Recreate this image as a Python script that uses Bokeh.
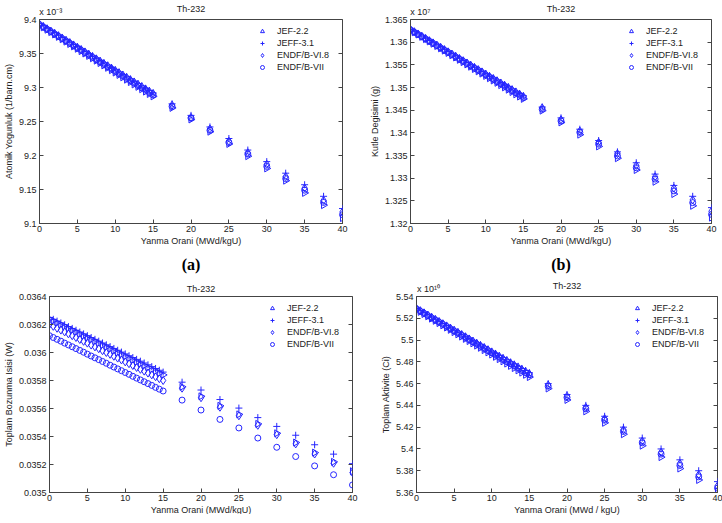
from bokeh.plotting import figure
from bokeh.layouts import column, row
from bokeh.models import Range1d, FixedTicker, Legend, LegendItem, Title, LinearAxis
from bokeh.embed import file_html
from bokeh.resources import INLINE

# ---------------- data ----------------
burnup = [0, 0.5, 1, 1.5, 2, 2.5, 3, 3.5, 4, 4.5, 5, 5.5, 6, 6.5, 7, 7.5, 8, 8.5, 9, 9.5,
          10, 10.5, 11, 11.5, 12, 12.5, 13, 13.5, 14, 14.5, 15,
          17.5, 20, 22.5, 25, 27.5, 30, 32.5, 35, 37.5, 40]
libraries = ["JEF-2.2", "JEFF-3.1", "ENDF/B-VI.8", "ENDF/B-VII"]
x_ticks = [0, 5, 10, 15, 20, 25, 30, 35, 40]

# (a) Atomic density, x 1e-3 1/barn.cm
a_jef22 = [9.392, 9.3885, 9.385, 9.3815, 9.378, 9.3745, 9.371, 9.3675, 9.364, 9.3605,
           9.357, 9.3535, 9.350, 9.3465, 9.343, 9.3395, 9.336, 9.3325, 9.329, 9.3255,
           9.322, 9.3185, 9.315, 9.3115, 9.308, 9.3045, 9.301, 9.2975, 9.294, 9.2905, 9.287,
           9.270, 9.253, 9.235, 9.217, 9.199, 9.181, 9.163, 9.145, 9.127, 9.108]
a_jeff31 = [9.394, 9.3906, 9.3872, 9.3838, 9.3804, 9.377, 9.3736, 9.3702, 9.3668, 9.3634,
            9.360, 9.3566, 9.3532, 9.3498, 9.3464, 9.343, 9.3396, 9.3362, 9.3328, 9.3294,
            9.326, 9.3226, 9.3192, 9.3158, 9.3124, 9.309, 9.3056, 9.3022, 9.2988, 9.2954, 9.292,
            9.276, 9.259, 9.242, 9.225, 9.208, 9.191, 9.174, 9.157, 9.140, 9.122]
a_endf68 = [9.393, 9.3896, 9.3862, 9.3828, 9.3794, 9.376, 9.3726, 9.3692, 9.3658, 9.3624,
            9.359, 9.3556, 9.3522, 9.3488, 9.3454, 9.342, 9.3386, 9.3352, 9.3318, 9.3284,
            9.325, 9.3216, 9.3182, 9.3148, 9.3114, 9.308, 9.3046, 9.3012, 9.2978, 9.2944, 9.291,
            9.274, 9.256, 9.239, 9.221, 9.204, 9.187, 9.169, 9.152, 9.134, 9.117]
a_endf7 = [9.3925, 9.389, 9.3856, 9.3822, 9.3787, 9.3752, 9.3718, 9.3684, 9.3649, 9.3614,
           9.358, 9.3546, 9.3511, 9.3476, 9.3442, 9.3408, 9.3373, 9.3338, 9.3304, 9.327,
           9.3235, 9.320, 9.3166, 9.3132, 9.3097, 9.3062, 9.3028, 9.2994, 9.2959, 9.2924, 9.289,
           9.272, 9.255, 9.237, 9.219, 9.202, 9.184, 9.166, 9.149, 9.131, 9.113]
a_yticks = [9.1, 9.15, 9.2, 9.25, 9.3, 9.35, 9.4]
a_ylabels = ["9.1", "9.15", "9.2", "9.25", "9.3", "9.35", "9.4"]

# (b) Mass, x 1e7 g
b_jef22 = [1.36270, 1.36219, 1.36169, 1.36118, 1.36067, 1.36017, 1.35966, 1.35915, 1.35864, 1.35814,
           1.35763, 1.35712, 1.35662, 1.35611, 1.35560, 1.35510, 1.35459, 1.35408, 1.35357, 1.35307,
           1.35256, 1.35205, 1.35155, 1.35104, 1.35053, 1.35003, 1.34952, 1.34901, 1.34850, 1.34800, 1.34749,
           1.3449, 1.3423, 1.3396, 1.3370, 1.3344, 1.3318, 1.3292, 1.3265, 1.3239, 1.3213]
b_jeff31 = [1.36280, 1.36231, 1.36183, 1.36134, 1.36085, 1.36037, 1.35988, 1.35939, 1.35890, 1.35842,
            1.35793, 1.35744, 1.35696, 1.35647, 1.35598, 1.35550, 1.35501, 1.35452, 1.35403, 1.35355,
            1.35306, 1.35257, 1.35209, 1.35160, 1.35111, 1.35063, 1.35014, 1.34965, 1.34916, 1.34868, 1.34819,
            1.3457, 1.3433, 1.3408, 1.3383, 1.3358, 1.3334, 1.3309, 1.3284, 1.3260, 1.3235]
b_endf68 = [1.36280, 1.36231, 1.36181, 1.36132, 1.36083, 1.36033, 1.35984, 1.35935, 1.35886, 1.35836,
            1.35787, 1.35738, 1.35688, 1.35639, 1.35590, 1.35541, 1.35491, 1.35442, 1.35393, 1.35343,
            1.35294, 1.35245, 1.35195, 1.35146, 1.35097, 1.35048, 1.34998, 1.34949, 1.34900, 1.34850, 1.34801,
            1.3455, 1.3429, 1.3404, 1.3379, 1.3354, 1.3328, 1.3303, 1.3278, 1.3252, 1.3227]
b_endf7 = [1.36270, 1.36220, 1.36171, 1.36121, 1.36071, 1.36022, 1.35972, 1.35922, 1.35872, 1.35823,
           1.35773, 1.35723, 1.35674, 1.35624, 1.35574, 1.35525, 1.35475, 1.35425, 1.35375, 1.35326,
           1.35276, 1.35226, 1.35177, 1.35127, 1.35077, 1.35028, 1.34978, 1.34928, 1.34878, 1.34829, 1.34779,
           1.3452, 1.3426, 1.3401, 1.3375, 1.3349, 1.3323, 1.3298, 1.3272, 1.3246, 1.3220]
b_yticks = [1.32, 1.325, 1.33, 1.335, 1.34, 1.345, 1.35, 1.355, 1.36, 1.365]
b_ylabels = ["1.32", "1.325", "1.33", "1.335", "1.34", "1.345", "1.35", "1.355", "1.36", "1.365"]

# (c) Decay heat, W
c_jef22 = [0.036240, 0.036227, 0.036213, 0.036200, 0.036187, 0.036173, 0.036160, 0.036147, 0.036133, 0.036120,
           0.036107, 0.036093, 0.036080, 0.036067, 0.036053, 0.036040, 0.036027, 0.036013, 0.036000, 0.035987,
           0.035973, 0.035960, 0.035947, 0.035933, 0.035920, 0.035907, 0.035893, 0.035880, 0.035867, 0.035853, 0.035840,
           0.035755, 0.035687, 0.035619, 0.035558, 0.035490, 0.035423, 0.035357, 0.035285, 0.035219, 0.035152]
c_jeff31 = [0.036250, 0.036237, 0.036224, 0.036211, 0.036198, 0.036185, 0.036172, 0.036159, 0.036146, 0.036133,
            0.036120, 0.036107, 0.036094, 0.036081, 0.036068, 0.036055, 0.036042, 0.036029, 0.036016, 0.036003,
            0.035990, 0.035977, 0.035964, 0.035951, 0.035938, 0.035925, 0.035912, 0.035899, 0.035886, 0.035873, 0.035860,
            0.035788, 0.035732, 0.035664, 0.035603, 0.035535, 0.035472, 0.035409, 0.035341, 0.035274, 0.035206]
c_endf68 = [0.036200, 0.036187, 0.036173, 0.036160, 0.036147, 0.036133, 0.036120, 0.036107, 0.036093, 0.036080,
            0.036067, 0.036053, 0.036040, 0.036027, 0.036013, 0.036000, 0.035987, 0.035973, 0.035960, 0.035947,
            0.035933, 0.035920, 0.035907, 0.035893, 0.035880, 0.035867, 0.035853, 0.035840, 0.035827, 0.035813, 0.035800,
            0.035745, 0.035677, 0.035609, 0.035548, 0.035480, 0.035413, 0.035347, 0.035275, 0.035209, 0.035142]
c_endf7 = [0.036120, 0.036107, 0.036094, 0.036081, 0.036067, 0.036054, 0.036041, 0.036028, 0.036015, 0.036002,
           0.035988, 0.035975, 0.035962, 0.035949, 0.035936, 0.035923, 0.035909, 0.035896, 0.035883, 0.035870,
           0.035857, 0.035844, 0.035830, 0.035817, 0.035804, 0.035791, 0.035778, 0.035765, 0.035751, 0.035738, 0.035725,
           0.035660, 0.035589, 0.035522, 0.035461, 0.035389, 0.035323, 0.035257, 0.035190, 0.035127, 0.035054]
c_yticks = [0.035, 0.0352, 0.0354, 0.0356, 0.0358, 0.036, 0.0362, 0.0364]
c_ylabels = ["0.035", "0.0352", "0.0354", "0.0356", "0.0358", "0.036", "0.0362", "0.0364"]

# (d) Activity, x 1e10 Ci
d_jef22 = [5.5280, 5.5259, 5.5239, 5.5218, 5.5197, 5.5177, 5.5156, 5.5135, 5.5115, 5.5094,
           5.5073, 5.5053, 5.5032, 5.5011, 5.4991, 5.4970, 5.4949, 5.4929, 5.4908, 5.4887,
           5.4867, 5.4846, 5.4825, 5.4805, 5.4784, 5.4763, 5.4743, 5.4722, 5.4701, 5.4681, 5.4660,
           5.4555, 5.4450, 5.4345, 5.4240, 5.4135, 5.4030, 5.3925, 5.3820, 5.3715, 5.3610]
d_jeff31 = [5.5290, 5.5270, 5.5251, 5.5231, 5.5211, 5.5192, 5.5172, 5.5152, 5.5133, 5.5113,
            5.5093, 5.5074, 5.5054, 5.5034, 5.5015, 5.4995, 5.4975, 5.4956, 5.4936, 5.4916,
            5.4897, 5.4877, 5.4857, 5.4838, 5.4818, 5.4798, 5.4779, 5.4759, 5.4739, 5.4720, 5.4700,
            5.4600, 5.4500, 5.4400, 5.4300, 5.4200, 5.4100, 5.4000, 5.3900, 5.3800, 5.3700]
d_endf68 = [5.529, 5.527, 5.525, 5.523, 5.521, 5.519, 5.517, 5.515, 5.513, 5.511,
            5.509, 5.507, 5.505, 5.503, 5.501, 5.499, 5.497, 5.495, 5.493, 5.491,
            5.489, 5.487, 5.485, 5.483, 5.481, 5.479, 5.477, 5.475, 5.473, 5.471, 5.469,
            5.4587, 5.4484, 5.4381, 5.4278, 5.4175, 5.4072, 5.3969, 5.3866, 5.3763, 5.3660]
d_endf7 = [5.5285, 5.5265, 5.5245, 5.5224, 5.5204, 5.5184, 5.5164, 5.5144, 5.5124, 5.5103,
           5.5083, 5.5063, 5.5043, 5.5023, 5.5003, 5.4982, 5.4962, 5.4942, 5.4922, 5.4902,
           5.4882, 5.4861, 5.4841, 5.4821, 5.4801, 5.4781, 5.4761, 5.4740, 5.4720, 5.4700, 5.4680,
           5.4576, 5.4472, 5.4368, 5.4264, 5.4160, 5.4056, 5.3952, 5.3848, 5.3744, 5.3640]
d_yticks = [5.36, 5.38, 5.4, 5.42, 5.44, 5.46, 5.48, 5.5, 5.52, 5.54]
d_ylabels = ["5.36", "5.38", "5.4", "5.42", "5.44", "5.46", "5.48", "5.5", "5.52", "5.54"]

# ---------------- styling ----------------
FONT = "Liberation Sans"
BLUE = "#2626ff"
TXT = "#222222"
AX = "#444444"
MARKERS = [("triangle", -90, 7), ("cross", 0, 7), ("diamond", 0, 8), ("circle", 0, 6)]


def style_axis(ax):
    ax.axis_line_color = AX
    ax.major_tick_line_color = AX
    ax.major_tick_in = 4
    ax.major_tick_out = 0
    ax.minor_tick_line_color = None
    ax.major_label_text_font = FONT
    ax.major_label_text_font_size = "9px"
    ax.major_label_text_color = TXT
    ax.axis_label_text_font = FONT
    ax.axis_label_text_font_size = "9px"
    ax.axis_label_text_font_style = "normal"
    ax.axis_label_text_color = TXT
    ax.major_label_standoff = 3
    ax.axis_label_standoff = 2


def panel(series, ylo, yhi, yticks, ylabels, ylabel, xlabel, mult, mult_x, tag,
          fw, fh, bl, br, bt, bb):
    p = figure(frame_width=fw, frame_height=fh, x_range=Range1d(0, 40), y_range=Range1d(ylo, yhi),
               output_backend="svg", toolbar_location=None, title=None,
               min_border_left=bl, min_border_right=br, min_border_top=bt, min_border_bottom=bb)
    p.background_fill_color = "white"
    p.border_fill_color = "white"
    p.outline_line_color = AX
    p.outline_line_width = 1
    p.grid.visible = False

    p.xaxis.ticker = FixedTicker(ticks=x_ticks)
    p.yaxis.ticker = FixedTicker(ticks=yticks)
    p.yaxis.major_label_overrides = {t: s for t, s in zip(yticks, ylabels)}
    style_axis(p.xaxis[0])
    style_axis(p.yaxis[0])
    p.xaxis.major_label_standoff = 2
    p.xaxis.axis_label_standoff = 1
    p.xaxis.axis_label = xlabel
    p.yaxis.axis_label = ylabel

    # top axis: exponent as a tick label and the title as axis label, no tick marks
    top_ticks = [mult_x] if mult else []
    top = LinearAxis(ticker=FixedTicker(ticks=top_ticks),
                     major_label_overrides={mult_x: mult} if mult else {})
    style_axis(top)
    top.axis_line_color = None
    top.major_tick_line_color = None
    top.axis_label = "Th-232"
    top.axis_label_standoff = -10 if mult else 3
    p.add_layout(top, "above")
    # right axis: inward ticks only, no labels
    right = LinearAxis(ticker=FixedTicker(ticks=yticks),
                       major_label_overrides={t: "" for t in yticks})
    style_axis(right)
    right.axis_line_color = None
    right.major_label_standoff = 0
    p.add_layout(right, "right")

    items = []
    for (mk, ang, sz), ys, name in zip(MARKERS, series, libraries):
        r = p.scatter(burnup, ys, marker=mk, angle=ang, angle_units="deg", size=sz,
                      line_color=BLUE, fill_color=None, line_width=1)
        items.append(LegendItem(label=name, renderers=[r]))
    leg = Legend(items=items, location="top_right")
    leg.label_text_font = FONT
    leg.label_text_font_size = "9px"
    leg.label_text_color = TXT
    leg.glyph_width = 10
    leg.glyph_height = 10
    leg.label_height = 11
    leg.label_width = 59
    leg.label_standoff = 10
    leg.spacing = 1
    leg.padding = 2
    leg.margin = 4
    leg.border_line_alpha = 0
    leg.background_fill_alpha = 0
    p.add_layout(leg)

    if tag:
        tt = Title(text=tag, align="center", text_font="Liberation Serif",
                   text_font_style="bold", text_font_size="16px", text_color="black",
                   standoff=10)
        p.add_layout(tt, "below")
    return p


pa = panel([a_jef22, a_jeff31, a_endf68, a_endf7], 9.1, 9.4, a_yticks, a_ylabels,
           "Atomik Yogunluk (1/barn.cm)", "Yanma Orani (MWd/kgU)", "x 10\u207b\u00b3", 1.5, "(a)",
           303, 204, 31, 24, 16, 20)
pb = panel([b_jef22, b_jeff31, b_endf68, b_endf7], 1.32, 1.365, b_yticks, b_ylabels,
           "Kutle Degisimi (g)", "Yanma Orani (MWd/kgU)", "x 10\u2077", 1.3, "(b)",
           301, 204, 40, 7, 16, 20)
pc = panel([c_jef22, c_jeff31, c_endf68, c_endf7], 0.035, 0.0364, c_yticks, c_ylabels,
           "Toplam Bozunma Isisi (W)", "Yanma Orani (MWd/kgU)", None, 1.5, None,
           303, 196, 31, 24, 16, 20)
pd_ = panel([d_jef22, d_jeff31, d_endf68, d_endf7], 5.36, 5.54, d_yticks, d_ylabels,
            "Toplam Aktivite (Ci)", "Yanma Orani (MWd / kgU)", "x 10\u00b9\u2070", 1.6, None,
            301, 196, 40, 7, 16, 20)

layout = column(row(pa, pb), row(pc, pd_))
open("out.html", "w").write(file_html(layout, INLINE))
